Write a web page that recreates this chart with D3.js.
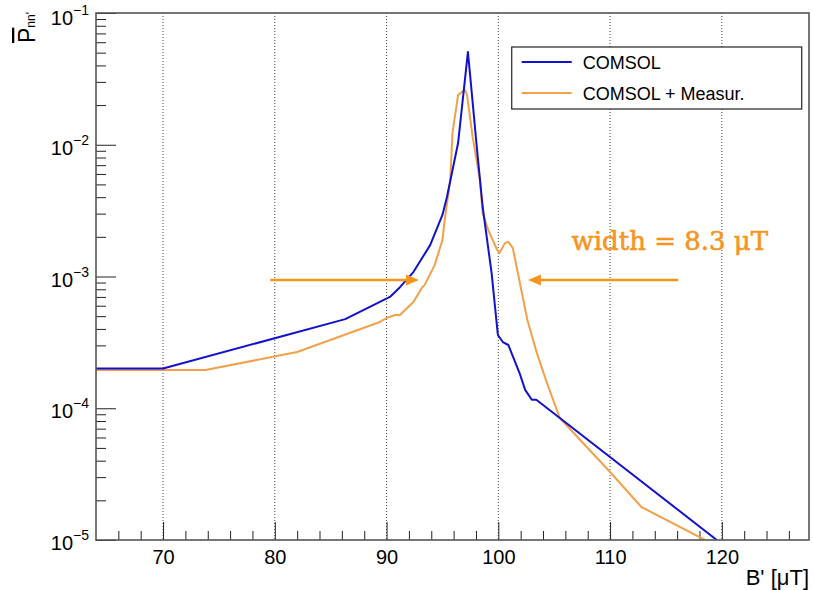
<!DOCTYPE html>
<html>
<head>
<meta charset="utf-8">
<script src="https://cdn.jsdelivr.net/npm/d3@7"></script>
<style>
  body { margin: 0; background: #fff; }
  text { font-family: "Liberation Sans", Arial, sans-serif; }
</style>
</head>
<body>
<script>
// data: B' in uT, P in absolute units
var comsolB = [64, 70, 86.3, 90.3, 91.2, 92.4, 93.9, 95.0, 95.4, 96.4, 97.28, 97.46, 98.1, 98.6, 99.4, 99.96, 100.4, 100.9, 101.9, 102.4, 103.0, 103.4, 119.55];
var comsolP = [2.0e-4, 2.0e-4, 4.75e-4, 7.0e-4, 8.3e-4, 1.08e-3, 1.73e-3, 2.93e-3, 4.0e-3, 1.03e-2, 5.06e-2, 3.5e-2, 9.1e-3, 3.37e-3, 1.06e-3, 3.6e-4, 3.18e-4, 3.02e-4, 1.85e-4, 1.38e-4, 1.16e-4, 1.16e-4, 1.0e-5];

var measB = [64, 73.8, 82.0, 89.4, 90.0, 90.75, 91.2, 92.4, 93.2, 93.4, 94.3, 95.0, 95.2, 95.7, 95.9, 96.4, 97.0, 97.2, 97.7, 98.35, 98.6, 99.1, 99.9, 100.1, 100.6, 100.9, 101.3, 102.6, 103.45, 104.35, 105.5, 110.0, 112.8, 118.5];
var measP = [1.95e-4, 1.95e-4, 2.67e-4, 4.52e-4, 4.84e-4, 5.1e-4, 5.1e-4, 6.4e-4, 8.3e-4, 8.6e-4, 1.22e-3, 1.89e-3, 2.68e-3, 5.4e-3, 1.23e-2, 2.39e-2, 2.61e-2, 2.39e-2, 1.15e-2, 5.4e-3, 3.03e-3, 2.25e-3, 1.59e-3, 1.51e-3, 1.8e-3, 1.83e-3, 1.64e-3, 4.68e-4, 2.62e-4, 1.56e-4, 8.43e-5, 3.28e-5, 1.78e-5, 1.0e-5];

var seriesNames = ["COMSOL", "COMSOL + Measur."];
var seriesColors = ["#1212cc", "#f2a04a"];

var xMajor = [70, 80, 90, 100, 110, 120];
var xMinor = [66, 68, 72, 74, 76, 78, 82, 84, 86, 88, 92, 94, 96, 98, 102, 104, 106, 108, 112, 114, 116, 118, 122, 124, 126];
var yMajor = [1e-5, 1e-4, 1e-3, 1e-2, 1e-1];
var yExponents = ["\u22125", "\u22124", "\u22123", "\u22122", "\u22121"];

// width annotation: two arrows pointing at the half-maximum points
var annotText = "width = 8.3 \u03bcT";
var arrowFromB = [79.6, 116.1];
var arrowTipB = [92.9, 102.65];
var arrowP = 9.4e-4;
var annotColor = "#f7941e";

var margin = {top: 13, right: 4, bottom: 50, left: 96},
    width = 813 - margin.left - margin.right,
    height = 590 - margin.top - margin.bottom;

var svg = d3.select("body")
    .append("svg")
    .attr("width", width + margin.left + margin.right)
    .attr("height", height + margin.top + margin.bottom);

var g = svg.append("g")
    .attr("transform", "translate(" + margin.left + "," + margin.top + ")");

var xScale = d3.scaleLinear().domain([64, 127.8]).range([0, width]),
    yScale = d3.scaleLog().domain([1e-5, 1e-1]).range([height, 0]);

// minor y ticks 2..9 in every decade
var yMinor = [];
for (var d = -5; d < -1; d++) {
  for (var k = 2; k <= 9; k++) yMinor.push(k * Math.pow(10, d));
}

g.append("clipPath").attr("id", "clip")
  .append("rect").attr("width", width).attr("height", height);

// dotted vertical grid
g.selectAll(".grid")
    .data(xMajor)
  .enter().append("line")
    .attr("class", "grid")
    .attr("x1", function(d) { return xScale(d); })
    .attr("x2", function(d) { return xScale(d); })
    .attr("y1", 0)
    .attr("y2", height)
    .attr("stroke", "#444")
    .attr("stroke-width", 1)
    .attr("stroke-dasharray", "1,2");

// ticks (inside the frame, ROOT style)
function tickAxis(axis) {
  var a = g.append("g").call(axis);
  a.select(".domain").remove();
  a.selectAll("line").attr("stroke", "#222").attr("stroke-width", 1);
  a.selectAll("text").remove();
  return a;
}
tickAxis(d3.axisBottom(xScale).tickValues(xMajor).tickSize(-18)).attr("transform", "translate(0," + height + ")");
tickAxis(d3.axisBottom(xScale).tickValues(xMinor).tickSize(-9)).attr("transform", "translate(0," + height + ")");
tickAxis(d3.axisLeft(yScale).tickValues(yMajor).tickSize(-20));
tickAxis(d3.axisLeft(yScale).tickValues(yMinor).tickSize(-10));

// x tick labels
var xLab = g.append("g")
    .attr("transform", "translate(0," + height + ")")
    .call(d3.axisBottom(xScale).tickValues(xMajor).tickSize(0).tickPadding(10));
xLab.select(".domain").remove();
xLab.selectAll("text").attr("font-size", "20px").attr("fill", "#000")
    .style("font-family", "Liberation Sans, Arial, sans-serif");

// y tick labels 10^n
var yLab = g.selectAll(".ylab")
    .data(yMajor)
  .enter().append("text")
    .attr("class", "ylab")
    .attr("x", -7)
    .attr("y", function(d, i) { return yScale(d) + (i == yMajor.length - 1 ? 12 : 10); })
    .attr("text-anchor", "end")
    .attr("font-size", "20px");
yLab.append("tspan").text("10");
yLab.append("tspan")
    .attr("font-size", "14px")
    .attr("dy", -10)
    .text(function(d, i) { return yExponents[i]; });

// data lines
var line = d3.line()
    .x(function(d) { return xScale(d[0]); })
    .y(function(d) { return yScale(d[1]); });

var series = [d3.zip(comsolB, comsolP), d3.zip(measB, measP)];

g.append("g").attr("clip-path", "url(#clip)")
  .selectAll(".series")
    .data([series[1], series[0]])
  .enter().append("path")
    .attr("class", "series")
    .attr("d", line)
    .attr("fill", "none")
    .attr("stroke", function(d, i) { return seriesColors[1 - i]; })
    .attr("stroke-width", 2)
    .attr("stroke-linejoin", "round");

// frame
g.append("rect")
    .attr("width", width)
    .attr("height", height)
    .attr("fill", "none")
    .attr("stroke", "#555")
    .attr("stroke-width", 1.6);

// legend
var legend = g.append("g").attr("transform", "translate(" + xScale(101.2) + ",34)");
legend.append("rect")
    .attr("width", 290)
    .attr("height", 62)
    .attr("fill", "#fff")
    .attr("stroke", "#222")
    .attr("stroke-width", 1.2);
var li = legend.selectAll(".li")
    .data(seriesNames)
  .enter().append("g")
    .attr("transform", function(d, i) { return "translate(0," + (15 + i * 31) + ")"; });
li.append("line")
    .attr("x1", 10).attr("x2", 60)
    .attr("stroke", function(d, i) { return seriesColors[i]; })
    .attr("stroke-width", 2);
li.append("text")
    .attr("x", 71)
    .attr("y", 6.5)
    .attr("font-size", "18px")
    .text(function(d) { return d; });

// annotation arrows
var arrows = g.selectAll(".arrow")
    .data(arrowTipB)
  .enter().append("g")
    .attr("class", "arrow");
arrows.append("line")
    .attr("x1", function(d, i) { return xScale(arrowFromB[i]); })
    .attr("x2", function(d, i) { return xScale(d) + (i == 0 ? -8 : 8); })
    .attr("y1", yScale(arrowP))
    .attr("y2", yScale(arrowP))
    .attr("stroke", annotColor)
    .attr("stroke-width", 2.6);
arrows.append("path")
    .attr("d", function(d, i) {
      var tx = xScale(d), ty = yScale(arrowP), s = (i == 0 ? -1 : 1);
      return "M" + tx + "," + ty + "L" + (tx + s * 13) + "," + (ty - 5.5) + "L" + (tx + s * 13) + "," + (ty + 5.5) + "Z";
    })
    .attr("fill", annotColor);

g.append("text")
    .attr("x", xScale(106.55))
    .attr("y", yScale(1.7e-3) + 4)
    .attr("font-size", "26px")
    .attr("fill", annotColor)
    .attr("stroke", annotColor)
    .attr("stroke-width", 0.6)
    .style("font-family", "DejaVu Serif, serif")
    .text(annotText);

// axis titles
svg.append("text")
    .attr("x", 809)
    .attr("y", 585)
    .attr("text-anchor", "end")
    .attr("font-size", "22px")
    .text("B' [\u03bcT]");

var yTitle = svg.append("text")
    .attr("transform", "translate(35,12) rotate(-90)")
    .attr("text-anchor", "end")
    .attr("font-size", "23px");
yTitle.append("tspan").style("text-decoration", "overline").text("P");
yTitle.append("tspan").attr("font-size", "12px").text("nn'");
</script>
</body>
</html>
